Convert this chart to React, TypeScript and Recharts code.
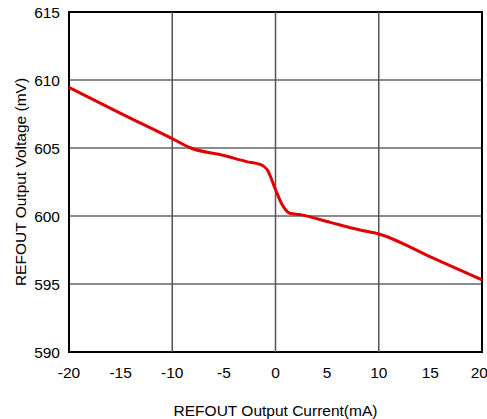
import React from "react";
import {
  LineChart,
  Line,
  XAxis,
  YAxis,
  CartesianGrid,
  ReferenceLine,
  ReferenceArea,
} from "recharts";

// output current (mA)
const current = [-20, -15, -10, -8.2, -5, -2.8, -1.5, -0.8, 0, 0.6, 1.4, 2.4, 5.3, 8.2, 10, 15, 20];
// output voltage (mV)
const voltage = [609.46, 607.55, 605.69, 605.0, 604.45, 604.0, 603.8, 603.4, 601.95, 600.9, 600.2, 600.1, 599.53, 598.97, 598.68, 597.0, 595.3];

const xTicks = [-20, -15, -10, -5, 0, 5, 10, 15, 20];
const yTicks = [590, 595, 600, 605, 610, 615];
const xGrid = [-10, 0, 10];

const data = current.map((c, i) => ({ current: c, voltage: voltage[i] }));

const font = "'Liberation Sans', Arial, sans-serif";
const textStyle = { fontSize: 15.5, fill: "#000", fontFamily: font };

export default function App() {
  return (
    <div style={{ position: "absolute", left: 0, top: 0, fontFamily: font }}>
      <LineChart
        width={487}
        height={419}
        data={data}
        margin={{ top: 12, right: 5, left: 0, bottom: 0 }}
      >
        <CartesianGrid vertical={false} stroke="#666" strokeWidth={1.5} />
        <XAxis
          dataKey="current"
          type="number"
          domain={[-20, 20]}
          ticks={xTicks}
          height={67}
          tickSize={0}
          tickMargin={15}
          tick={textStyle}
          axisLine={false}
          label={{
            value: "REFOUT Output Current(mA)",
            position: "insideBottom",
            offset: 3,
            style: textStyle,
          }}
        />
        <YAxis
          type="number"
          domain={[590, 615]}
          ticks={yTicks}
          width={69}
          tickSize={0}
          tickMargin={9}
          tick={textStyle}
          axisLine={false}
          label={{
            value: "REFOUT Output Voltage (mV)",
            angle: -90,
            position: "insideLeft",
            offset: 20,
            style: { ...textStyle, textAnchor: "middle" },
          }}
        />
        {xGrid.map((v) => (
          <ReferenceLine key={v} x={v} stroke="#555" strokeWidth={1.5} />
        ))}
        <ReferenceArea
          x1={-20}
          x2={20}
          y1={590}
          y2={615}
          fill="none"
          fillOpacity={0}
          stroke="#000"
          strokeWidth={2}
        />
        <Line
          type="monotone"
          dataKey="voltage"
          stroke="#e00000"
          strokeWidth={3}
          dot={false}
          isAnimationActive={false}
        />
      </LineChart>
    </div>
  );
}
